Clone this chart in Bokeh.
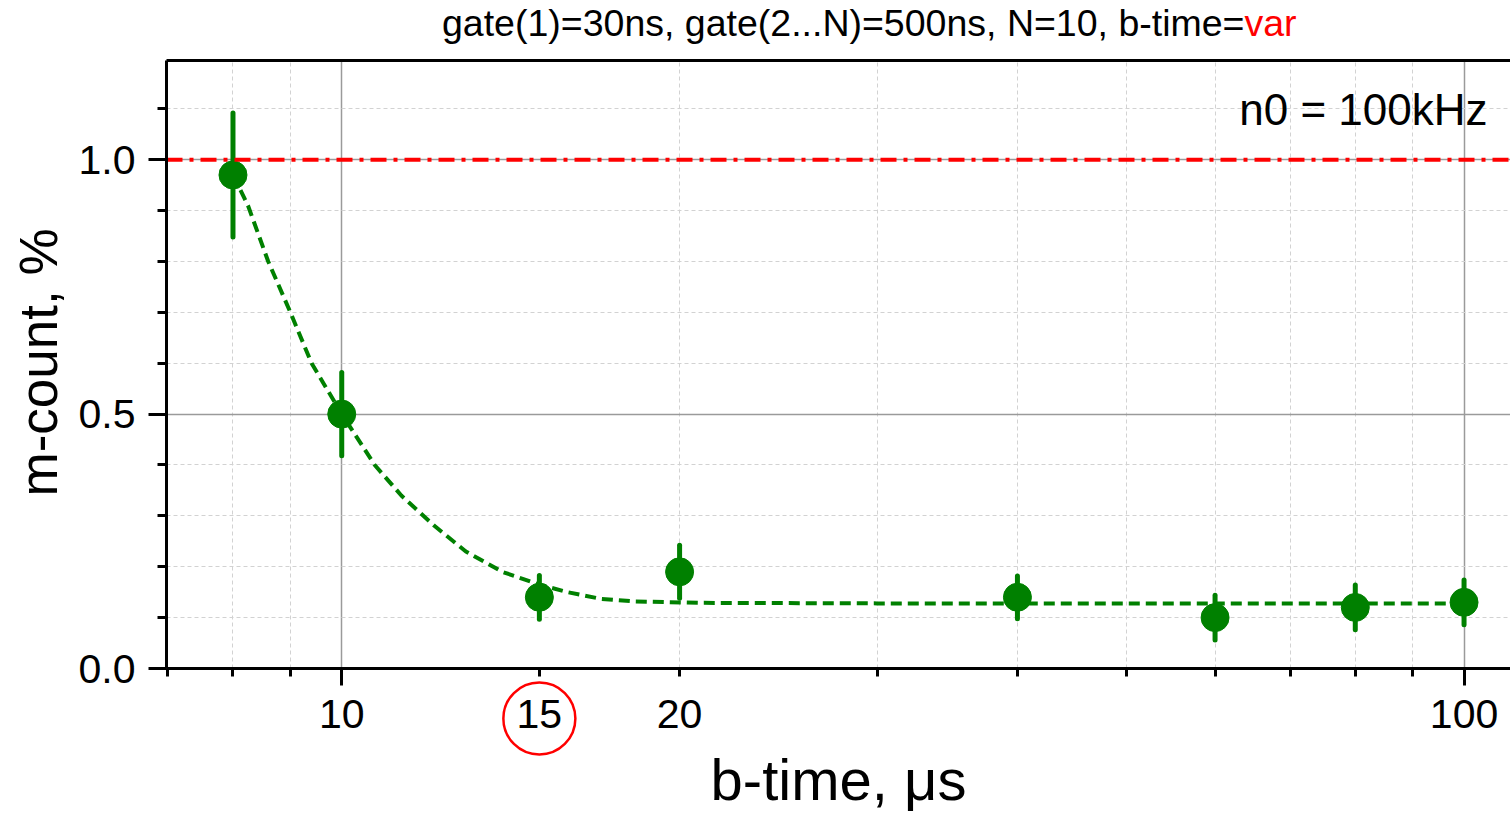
import math
from bokeh.plotting import figure
from bokeh.models import FixedTicker, Label, PrintfTickFormatter, LogAxis
from bokeh.embed import file_html
from bokeh.resources import INLINE

# ---------------- data ----------------
b_time = [8, 10, 15, 20, 40, 60, 80, 100]
m_count = [0.97, 0.50, 0.14, 0.19, 0.14, 0.10, 0.12, 0.13]
m_err = [0.122, 0.082, 0.043, 0.052, 0.042, 0.044, 0.044, 0.044]

fit_x = [8, 8.25, 8.6, 9.0, 9.4, 10, 10.7, 11.3, 12.1, 12.9, 13.9, 15, 15.9, 17, 18.2, 20.9, 30, 50, 100]
fit_y = [0.97, 0.91, 0.80, 0.70, 0.60, 0.50, 0.40, 0.34, 0.28, 0.23, 0.19, 0.165, 0.15, 0.137, 0.132, 0.129, 0.128, 0.128, 0.128]

ref_level = 1.0
x_lo, x_hi = 6.98, 110          # visible x extent of the plot box
y_lo, y_hi = 0.0, 1.195         # visible y extent of the plot box
x_major = [10, 100]
x_minor = [7, 8, 9, 15, 20, 30, 40, 50, 60, 70, 80, 90]
x_grid_minor = [8, 9, 20, 30, 40, 50, 60, 70, 80, 90]
x_extra_labels = [15, 20]
circled_label = 15
y_major = [0.0, 0.5, 1.0]
y_minor = [0.1, 0.2, 0.3, 0.4, 0.6, 0.7, 0.8, 0.9, 1.1]

title_main = "gate(1)=30ns, gate(2...N)=500ns, N=10, b-time="
title_var = "var"
note_text = "n0 = 100kHz"
x_title = "b-time, \u03bcs"
y_title = "m-count, %"

GREEN = "#008000"
FONT = "Liberation Sans"

lower = [v - e for v, e in zip(m_count, m_err)]
upper = [v + e for v, e in zip(m_count, m_err)]

# ---------------- layout geometry ----------------
# the frame spans the whole canvas; the plot box sits at x 166..1510, y 60..668 px
W, H = 1510, 817
box_left, box_top, box_bottom = 166, 60, 668
px_per_unit = (box_bottom - box_top) / (y_hi - y_lo)
y_range = (y_lo - (H - box_bottom) / px_per_unit, y_hi + box_top / px_per_unit)
px_per_decade = (W - box_left) / (math.log10(x_hi) - math.log10(x_lo))
x_range = (10 ** (math.log10(x_lo) - box_left / px_per_decade), x_hi)
circle_center_px = 718
BASE_FIX = 0.37  # baseline correction (in em) for labels

def sy(px, size=0):
    """canvas pixel row -> frame screen y (with baseline correction)"""
    return H - px + BASE_FIX * size

p = figure(width=W, height=H, x_axis_type="log",
           x_range=x_range, y_range=y_range,
           output_backend="svg", toolbar_location=None,
           min_border_left=0, min_border_right=0,
           min_border_top=0, min_border_bottom=0)
p.outline_line_color = None
p.background_fill_color = "white"
p.border_fill_color = "white"

xa = p.xaxis[0]
ya = p.yaxis[0]
xa.fixed_location = y_lo
ya.fixed_location = x_lo
xa.bounds = (x_lo, x_hi)
ya.bounds = (y_lo, y_hi)
xa.ticker = FixedTicker(ticks=x_major, minor_ticks=x_minor)
xa.formatter = PrintfTickFormatter(format="%d")
ya.ticker = FixedTicker(ticks=y_major, minor_ticks=y_minor)
ya.formatter = PrintfTickFormatter(format="%.1f")

for ax in (xa, ya):
    ax.axis_line_width = 3
    ax.axis_line_color = "black"
    ax.major_tick_line_width = 3
    ax.minor_tick_line_width = 3
    ax.major_tick_line_color = "black"
    ax.minor_tick_line_color = "black"
    ax.major_tick_in = 0
    ax.minor_tick_in = 0
    ax.major_label_text_font = FONT
    ax.major_label_text_font_size = "41px"
    ax.major_label_text_color = "black"

xa.major_tick_out = 17
xa.minor_tick_out = 8
xa.major_label_standoff = 14

ya.major_tick_out = 18
ya.minor_tick_out = 9
ya.major_label_standoff = 13

# top border of the plot box
top_axis = LogAxis(fixed_location=y_hi, bounds=(x_lo, x_hi),
                   ticker=FixedTicker(ticks=[], minor_ticks=[]),
                   axis_line_width=3, axis_line_color="black",
                   major_tick_out=0, minor_tick_out=0,
                   major_label_text_font_size="0px", major_label_text_color=None)
p.add_layout(top_axis, "above")

# grids, limited to the plot box
p.xgrid.ticker = FixedTicker(ticks=x_major, minor_ticks=x_grid_minor)
p.ygrid.ticker = FixedTicker(ticks=y_major, minor_ticks=y_minor)
p.xgrid.cross_bounds = (y_lo, y_hi)
p.ygrid.cross_bounds = (x_lo, x_hi)
for g in (p.xgrid[0], p.ygrid[0]):
    g.grid_line_color = "#9a9a9a"
    g.grid_line_width = 1.5
    g.minor_grid_line_color = "#d2d2d2"
    g.minor_grid_line_width = 1
    g.minor_grid_line_dash = "4 3"

# fit curve, error bars, points
p.line(fit_x, fit_y, line_color=GREEN, line_width=4, line_dash="11 6")
p.segment(x0=b_time, y0=lower, x1=b_time, y1=upper, line_color=GREEN,
          line_width=5, line_cap="round")
p.scatter(b_time, m_count, size=28, fill_color=GREEN, line_color=GREEN)

# reference line at 1.0 (drawn over the data)
p.line([x_lo, x_hi], [ref_level, ref_level], line_color="red",
       line_width=4, line_dash="16 7 4 7")

# extra tick labels (15 circled, 20)
for v in x_extra_labels:
    p.add_layout(Label(x=v, y=sy(729, 41), x_units="data", y_units="screen", text=str(v),
                       text_align="center", text_baseline="alphabetic",
                       text_font=FONT, text_font_size="41px", text_color="black"))
circle_y = y_lo - (circle_center_px - box_bottom) / px_per_unit
p.scatter([circled_label], [circle_y], size=72, marker="circle",
          fill_color=None, line_color="red", line_width=2.5)

# axis titles
p.add_layout(Label(x=(box_left + W) / 2, y=sy(800, 58), x_units="screen", y_units="screen",
                   text=x_title, text_align="center", text_baseline="alphabetic",
                   text_font=FONT, text_font_size="58px", text_color="black"))
p.add_layout(Label(x=58 - BASE_FIX * 53, y=H - 362, x_units="screen", y_units="screen",
                   text=y_title, angle=math.pi / 2, text_align="center",
                   text_baseline="alphabetic",
                   text_font=FONT, text_font_size="53px", text_color="black"))

# title in two colours
p.add_layout(Label(x=1244, y=sy(36, 37.5), x_units="screen", y_units="screen", text=title_main,
                   text_align="right", text_baseline="alphabetic",
                   text_font=FONT, text_font_size="37.5px", text_color="black"))
p.add_layout(Label(x=1244, y=sy(36, 37.5), x_units="screen", y_units="screen", text=title_var,
                   text_align="left", text_baseline="alphabetic",
                   text_font=FONT, text_font_size="37.5px", text_color="red"))

# annotation text
p.add_layout(Label(x=1487, y=sy(125, 44), x_units="screen", y_units="screen", text=note_text,
                   text_align="right", text_baseline="alphabetic",
                   text_font=FONT, text_font_size="44px", text_color="black"))

open("out.html", "w").write(file_html(p, INLINE))
